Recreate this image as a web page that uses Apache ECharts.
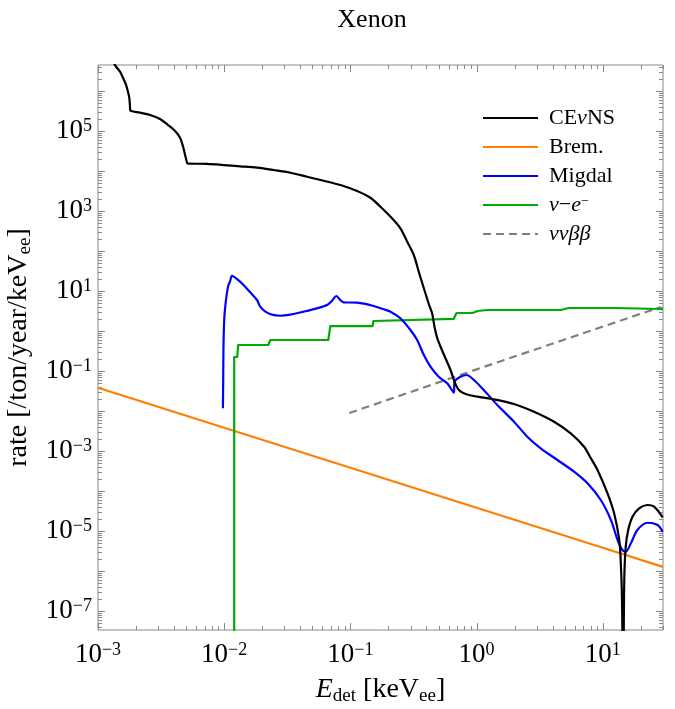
<!DOCTYPE html>
<html><head><meta charset="utf-8">
<script src="https://cdn.jsdelivr.net/npm/echarts@6/dist/echarts.min.js"></script>
<style>html,body{margin:0;padding:0;background:#fff}#c{width:675px;height:709px}</style>
</head><body><div id="c"></div>
<script>
// ---------- data ----------
const cevnsE = [1.33e-3, 1.36e-3, 1.50e-3, 1.58e-3, 1.67e-3, 1.73e-3, 1.77e-3, 1.79e-3, 1.80e-3, 1.83e-3, 2.15e-3, 2.59e-3, 3.10e-3, 3.59e-3, 4.08e-3, 4.48e-3, 4.73e-3, 4.90e-3, 5.06e-3, 5.10e-3, 7.3e-3, 9.86e-3, 0.01339, 0.0182, 0.0246, 0.0334, 0.0453, 0.0614, 0.0834, 0.113, 0.144, 0.173, 0.208, 0.249, 0.282, 0.318, 0.348, 0.382, 0.418, 0.444, 0.464, 0.488, 0.518, 0.567, 0.622, 0.669, 0.724, 0.818, 1.01, 1.37, 1.98, 2.85, 4.11, 5.57, 7.11, 8.04, 9.08, 10.9, 12.3, 13.5, 13.9, 14.2, 14.5, 14.8, 15.2, 15.9, 17.2, 19.4, 22.6, 25.5, 29.8];
const cevnsRate = [6e6, 4.5e6, 2.99e6, 2.11e6, 1.41e6, 9.4e5, 6.7e5, 4.5e5, 3.35e5, 3.16e5, 2.87e5, 2.51e5, 2.0e5, 1.41e5, 1.0e5, 6.7e4, 3.98e4, 2.51e4, 1.68e4, 1.56e4, 1.50e4, 1.41e4, 1.31e4, 1.21e4, 1.06e4, 9.07e3, 7.2e3, 5.72e3, 4.47e3, 3.16e3, 2.15e3, 1.28e3, 720, 369, 171, 79.4, 30.4, 11.7, 4.73, 2.77, 1.28, 0.657, 0.405, 0.208, 0.106, 0.054, 0.0335, 0.0266, 0.0228, 0.0196, 0.015, 0.0096, 0.0054, 2.77e-3, 1.28e-3, 6.57e-4, 3.35e-4, 8.76e-5, 2.77e-5, 5.96e-6, 1.56e-6, 1.88e-7, 1e-9, 5.96e-7, 4.05e-6, 1.06e-5, 2.28e-5, 3.69e-5, 4.47e-5, 4.05e-5, 2.2e-5];

const bremE = [0.001, 0.01, 0.1, 1, 10, 30];
const bremRate = [0.038, 3.8e-3, 3.8e-4, 3.8e-5, 3.8e-6, 1.27e-6];

const migdalE = [0.00977, 0.00982, 0.00987, 0.0100, 0.01019, 0.0105, 0.01081, 0.01116, 0.01151, 0.0126, 0.01422, 0.01607, 0.0182, 0.0193, 0.0212, 0.0239, 0.0278, 0.0334, 0.0426, 0.0544, 0.0653, 0.0716, 0.0774, 0.0822, 0.0885, 0.113, 0.153, 0.184, 0.208, 0.249, 0.299, 0.338, 0.382, 0.431, 0.501, 0.585, 0.66, 0.669, 0.746, 0.833, 0.953, 1.14, 1.46, 1.98, 2.52, 3.22, 4.37, 5.92, 7.56, 9.64, 11.6, 13.1, 14.3, 15.2, 16.7, 18.8, 22.6, 27.2, 29.8];
const migdalRate = [0.01168, 0.0596, 0.405, 1.88, 4.05, 8.76, 14.1, 17.8, 24.1, 20, 14.1, 9.28, 5.96, 4.05, 3.04, 2.56, 2.41, 2.56, 3.04, 3.69, 4.47, 5.72, 7.5, 6.2, 5.22, 5.1, 4.22, 3.49, 3.04, 2.08, 1.06, 0.596, 0.251, 0.128, 0.072, 0.0493, 0.0287, 0.054, 0.072, 0.0794, 0.0596, 0.0335, 0.0141, 5.4e-3, 2.28e-3, 1.17e-3, 5.96e-4, 3.04e-4, 1.56e-4, 5.96e-5, 1.88e-5, 5.96e-6, 3.35e-6, 3.04e-6, 4.93e-6, 1.06e-5, 1.61e-5, 1.41e-5, 9.6e-6];

const nueE = [0.0120, 0.0120, 0.01268, 0.0129, 0.0224, 0.0232, 0.0668, 0.0693, 0.150, 0.152, 0.657, 0.693, 0.929, 1.02, 1.22, 4.64, 5.37, 12.2, 28.8, 30];
const nueRate = [1e-9, 0.224, 0.224, 0.447, 0.447, 0.596, 0.596, 1.33, 1.33, 1.78, 2.0, 2.82, 2.82, 3.16, 3.35, 3.35, 3.76, 3.76, 3.55, 3.5];

const bbE = [0.098, 1.0, 28.8];
const bbRate = [8.9e-3, 0.11, 3.98];

const seriesNames = ['CEνNS', 'Brem.', 'Migdal', 'ν−e⁻', 'ννββ'];
const legendRich = ['CE{i|ν}NS', 'Brem.', 'Migdal', '{i|ν}−{i|e}{sup|−}', '{i|ννββ}'];

// axis ticks / labels
const xLabelValues = [1e-3, 1e-2, 1e-1, 1, 10];
const yLabelValues = [1e-7, 1e-5, 1e-3, 1e-1, 10, 1e3, 1e5];
const xDecades = [-3, -2, -1, 0, 1];
const yDecades = [-8, -7, -6, -5, -4, -3, -2, -1, 0, 1, 2, 3, 4, 5, 6];
const X_MIN = 1e-3, X_MAX = 30, Y_MIN = 3.35e-8, Y_MAX = 4.47e6;

// ---------- build ----------
const FONT = '"Liberation Serif", "Times New Roman", serif';
const FRAME = '#888888';

function pairs(a, b) { return a.map((v, i) => [v, b[i]]); }
function supLabel(v) {
  const e = Math.round(Math.log10(v));
  if (Math.abs(Math.log10(v) - e) > 1e-6) return '';
  return '10{sup|' + (e < 0 ? '\u2212' + (-e) : String(e)) + '}';
}
function tickList(decades, lo, hi) {
  const out = [];
  decades.forEach(d => {
    for (let m = 1; m <= 9; m++) {
      const v = m * Math.pow(10, d);
      if (v >= lo * 0.9999 && v <= hi * 1.0001) out.push({ v: v, major: m === 1 ? 1 : 0 });
    }
  });
  return out;
}
const xTicks = tickList(xDecades, X_MIN, X_MAX).map(t => [t.v, 1, t.major]);
const yTicks = tickList(yDecades, Y_MIN, Y_MAX).map(t => [0.01, t.v, t.major]);

const labelRich = {
  sup: { fontSize: 18, fontFamily: FONT, color: '#000', verticalAlign: 'top', lineHeight: 15 }
};

const chart = echarts.init(document.getElementById('c'), null, { renderer: 'canvas', width: 675, height: 709 });

function lineSeries(name, E, R, color, dashed, smooth) {
  return {
    name: name, type: 'line', data: pairs(E, R),
    symbol: 'none', showSymbol: false, clip: true, animation: false,
    smooth: smooth || false,
    lineStyle: { color: color, width: 2.2, type: dashed ? [8, 5] : 'solid', join: 'round' },
    itemStyle: { color: color },
    z: 3
  };
}

const option = {
  animation: false,
  backgroundColor: '#fff',
  graphic: [{
    type: 'text', x: 372, y: 20,
    style: { text: 'Xenon', font: '26px ' + FONT, fill: '#000', align: 'center', verticalAlign: 'middle' }
  }],
  grid: { left: 98, right: 12, top: 65, bottom: 79, containLabel: false, outerBoundsMode: 'none',
          show: true, borderColor: FRAME, borderWidth: 1, backgroundColor: 'transparent' },
  legend: {
    data: seriesNames,
    left: 482, top: 107, orient: 'vertical', padding: 0,
    itemWidth: 55, itemHeight: 14, itemGap: 7,
    itemStyle: { opacity: 0 },
    formatter: function (name) { return legendRich[seriesNames.indexOf(name)]; },
    textStyle: {
      fontFamily: FONT, fontSize: 22, color: '#000', lineHeight: 22, padding: [0, 0, 0, 6],
      rich: {
        i: { fontFamily: FONT, fontSize: 22, fontStyle: 'italic', color: '#000' },
        sup: { fontFamily: FONT, fontSize: 14, color: '#000', verticalAlign: 'top', lineHeight: 14 }
      }
    }
  },
  xAxis: {
    type: 'log', logBase: 10, min: X_MIN, max: X_MAX,
    axisLine: { show: false }, axisTick: { show: false }, splitLine: { show: false },
    axisLabel: {
      customValues: xLabelValues, formatter: supLabel, margin: 11,
      fontFamily: FONT, fontSize: 27, color: '#000', rich: labelRich
    },
    name: '{i|E}{sub|det} [keV{sub|ee}]', nameLocation: 'middle', nameGap: 42,
    nameTextStyle: {
      fontFamily: FONT, fontSize: 28, color: '#000', lineHeight: 33,
      rich: {
        i: { fontFamily: FONT, fontSize: 28, fontStyle: 'italic', color: '#000' },
        sub: { fontFamily: FONT, fontSize: 19, color: '#000', verticalAlign: 'bottom', lineHeight: 33 }
      }
    }
  },
  yAxis: {
    type: 'log', logBase: 10, min: Y_MIN, max: Y_MAX,
    axisLine: { show: false }, axisTick: { show: false }, splitLine: { show: false },
    axisLabel: {
      customValues: yLabelValues, formatter: supLabel, margin: 6,
      fontFamily: FONT, fontSize: 27, color: '#000', rich: labelRich
    },
    name: 'rate [/ton/year/keV{sub|ee}]', nameLocation: 'middle', nameGap: 60, nameRotate: 90,
    nameTextStyle: {
      fontFamily: FONT, fontSize: 28, color: '#000', lineHeight: 33,
      rich: {
        sub: { fontFamily: FONT, fontSize: 19, color: '#000', verticalAlign: 'bottom', lineHeight: 33 }
      }
    }
  },
  series: [
    {
      name: 'xticks', type: 'custom', silent: true, z: 1, animation: false,
      data: xTicks, encode: { x: 0, y: 1 },
      renderItem: function (params, api) {
        const cs = params.coordSys;
        const px = Math.round(api.coord([api.value(0), api.value(1)])[0]) + 0.5;
        const len = api.value(2) ? 7 : 4;
        const st = { stroke: FRAME, lineWidth: 1 };
        return { type: 'group', children: [
          { type: 'line', shape: { x1: px, y1: cs.y + cs.height, x2: px, y2: cs.y + cs.height - len }, style: st },
          { type: 'line', shape: { x1: px, y1: cs.y, x2: px, y2: cs.y + len }, style: st }
        ] };
      }
    },
    {
      name: 'yticks', type: 'custom', silent: true, z: 1, animation: false,
      data: yTicks, encode: { x: 0, y: 1 },
      renderItem: function (params, api) {
        const cs = params.coordSys;
        const py = Math.round(api.coord([api.value(0), api.value(1)])[1]) + 0.5;
        const len = api.value(2) ? 7 : 4;
        const st = { stroke: FRAME, lineWidth: 1 };
        return { type: 'group', children: [
          { type: 'line', shape: { x1: cs.x, y1: py, x2: cs.x + len, y2: py }, style: st },
          { type: 'line', shape: { x1: cs.x + cs.width, y1: py, x2: cs.x + cs.width - len, y2: py }, style: st }
        ] };
      }
    },
    lineSeries(seriesNames[1], bremE, bremRate, '#FF7F00'),
    lineSeries(seriesNames[4], bbE, bbRate, '#808080', true),
    lineSeries(seriesNames[3], nueE, nueRate, '#00AA00'),
    lineSeries(seriesNames[2], migdalE, migdalRate, '#0000FF', false, 0.3),
    lineSeries(seriesNames[0], cevnsE, cevnsRate, '#000000', false, 0.3)
  ]
};
chart.setOption(option);
</script>
</body></html>
